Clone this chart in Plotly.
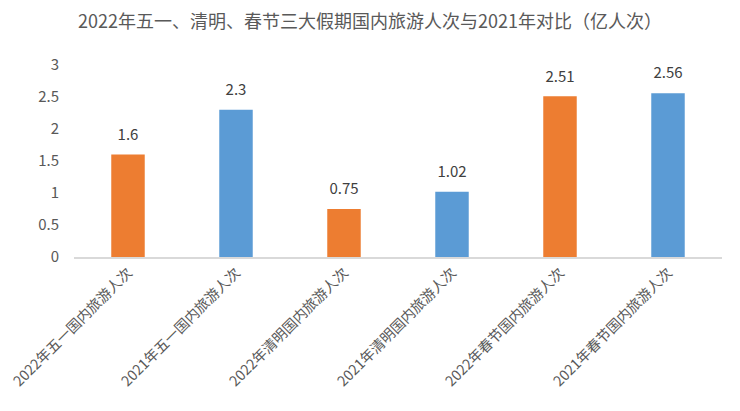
import plotly.graph_objects as go

categories = [
    "2022年五一国内旅游人次",
    "2021年五一国内旅游人次",
    "2022年清明国内旅游人次",
    "2021年清明国内旅游人次",
    "2022年春节国内旅游人次",
    "2021年春节国内旅游人次",
]
values = [1.6, 2.3, 0.75, 1.02, 2.51, 2.56]
labels = ["1.6", "2.3", "0.75", "1.02", "2.51", "2.56"]
bar_colors = ["#ED7D31", "#5B9BD5", "#ED7D31", "#5B9BD5", "#ED7D31", "#5B9BD5"]

font_family = "Noto Sans CJK SC, Noto Sans, sans-serif"

# the page body adds an 8px margin, so the figure is drawn 16px smaller
fig = go.Figure(
    data=[
        go.Bar(
            x=categories,
            y=values,
            marker=dict(color=bar_colors, line_width=0),
            hoverinfo="x+y",
        ),
        # value labels sit a bit higher above the bars than bar text would
        go.Scatter(
            x=categories,
            y=values,
            mode="markers+text",
            marker=dict(size=16, opacity=0),
            text=labels,
            textposition="top center",
            textfont=dict(size=15, color="#404040"),
            cliponaxis=False,
            hoverinfo="skip",
        ),
    ],
    layout=dict(
        title=dict(
            text="2022年五一、清明、春节三大假期国内旅游人次与2021年对比（亿人次）",
            x=0.5,
            xanchor="center",
            y=0.965,
            yanchor="middle",
            font=dict(size=18, color="#595959"),
        ),
        font=dict(family=font_family, color="#595959"),
        width=724,
        height=395,
        margin=dict(l=66, r=10, t=57, b=146, autoexpand=False),
        plot_bgcolor="white",
        paper_bgcolor="white",
        bargap=0.69,
        showlegend=False,
        xaxis=dict(
            tickangle=-45,
            tickfont=dict(size=14.3, color="#595959"),
            showline=True,
            linecolor="#D9D9D9",
            linewidth=1.5,
            ticks="",
            showgrid=False,
            automargin=False,
        ),
        yaxis=dict(
            range=[0, 3],
            dtick=0.5,
            tickfont=dict(size=15, color="#595959"),
            showgrid=False,
            zeroline=False,
            ticks="",
            ticklabelstandoff=14,
            automargin=False,
        ),
    ),
)

fig.write_html("out.html")
